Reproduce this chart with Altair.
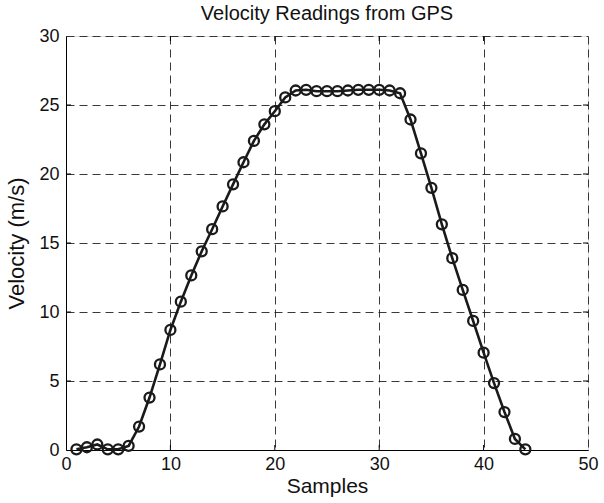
import altair as alt
import pandas as pd

samples = list(range(1, 45))
velocity = [0.05, 0.2, 0.4, 0.05, 0.05, 0.3, 1.7, 3.8, 6.2, 8.7,
            10.75, 12.65, 14.4, 16.0, 17.65, 19.25, 20.85, 22.4, 23.6, 24.55,
            25.55, 26.05, 26.1, 26.0, 26.0, 26.0, 26.05, 26.1, 26.1, 26.1,
            26.05, 25.85, 23.95, 21.5, 19.0, 16.35, 13.9, 11.6, 9.35, 7.05,
            4.85, 2.75, 0.8, 0.05]

x_ticks = [0, 10, 20, 30, 40, 50]
y_ticks = [0, 5, 10, 15, 20, 25, 30]

df = pd.DataFrame({"Samples": samples, "Velocity": velocity})

FONT = "Liberation Sans"
W, H = 522, 414
GRID = dict(grid=True, gridDash=[8, 5], gridColor="#222", gridOpacity=1, gridWidth=0.9)
COMMON = dict(tickSize=0, domainColor="#000", labelFontSize=18,
              titleFontWeight="normal", labelColor="#111", titleColor="#111",
              labelFont=FONT, titleFont=FONT, labelFlush=False, labelOverlap=False)

xs = alt.Scale(domain=[0, 50], nice=False)
ys = alt.Scale(domain=[0, 30], nice=False)

base = alt.Chart(df)

line = base.mark_line(color="#1a1a1a", strokeWidth=2.6).encode(
    x=alt.X("Samples:Q", scale=xs,
            axis=alt.Axis(values=x_ticks, title="Samples", labelPadding=5,
                          titlePadding=2, titleFontSize=21, **GRID, **COMMON)),
    y=alt.Y("Velocity:Q", scale=ys,
            axis=alt.Axis(values=y_ticks, title="Velocity (m/s)", labelPadding=7,
                          titlePadding=10, titleFontSize=22, **GRID, **COMMON)),
)

points = base.mark_point(shape="circle", filled=False, color="#1a1a1a",
                         size=100, strokeWidth=2.3, opacity=1).encode(
    x=alt.X("Samples:Q", scale=xs),
    y=alt.Y("Velocity:Q", scale=ys),
)

xt = pd.DataFrame({"t": x_ticks[1:-1]})
yt = pd.DataFrame({"t": y_ticks[1:-1]})

xtick_b = alt.Chart(xt).mark_rule(color="#000", strokeWidth=1).encode(
    x=alt.X("t:Q", scale=xs), y=alt.value(H), y2=alt.value(H - 5))
xtick_t = alt.Chart(xt).mark_rule(color="#000", strokeWidth=1).encode(
    x=alt.X("t:Q", scale=xs), y=alt.value(0), y2=alt.value(5))
ytick_l = alt.Chart(yt).mark_rule(color="#000", strokeWidth=1).encode(
    y=alt.Y("t:Q", scale=ys), x=alt.value(0), x2=alt.value(5))
ytick_r = alt.Chart(yt).mark_rule(color="#000", strokeWidth=1).encode(
    y=alt.Y("t:Q", scale=ys), x=alt.value(W), x2=alt.value(W - 5))

chart = alt.layer(line, points, xtick_b, xtick_t, ytick_l, ytick_r).properties(
    width=W, height=H,
    title=alt.TitleParams("Velocity Readings from GPS", font=FONT, fontSize=20,
                          fontWeight="normal", color="#111", offset=3),
    autosize=alt.AutoSizeParams(type="none"),
    padding={"left": 66, "top": 36, "right": 16, "bottom": 53},
).configure_view(stroke="#000", strokeWidth=1).configure(background="white")

chart.save("out.html", embed_options={"renderer": "svg", "actions": False})
